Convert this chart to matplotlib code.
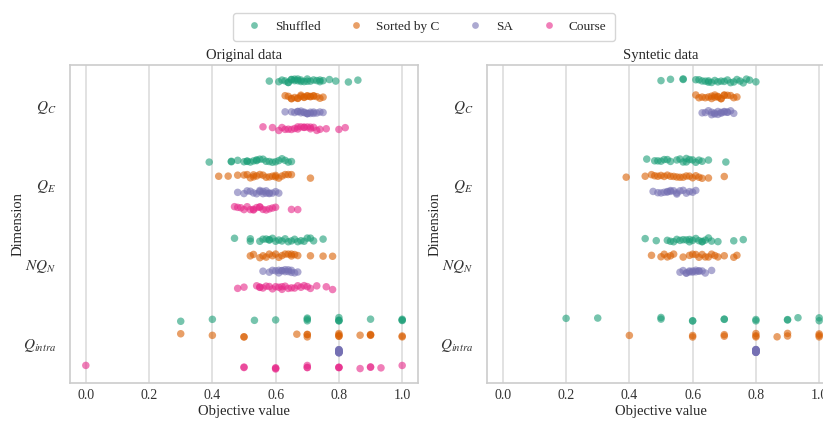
import numpy as np
import pandas as pd
import matplotlib
matplotlib.use("Agg")
import matplotlib.pyplot as plt
import seaborn as sns

methods = ["Shuffled", "Sorted by C", "SA", "Course"]
dimensions = ["QC", "QE", "NQN", "Qintra"]
dim_labels = [r"$Q_C$", r"$Q_E$", r"$NQ_N$", r"$Q_{intra}$"]
xticks = [0.0, 0.2, 0.4, 0.6, 0.8, 1.0]

# ---------------- Original data ----------------
orig_QC_shuffled = [0.58, 0.61, 0.62, 0.63, 0.64, 0.64, 0.65, 0.65, 0.66, 0.66, 0.67, 0.67, 0.68, 0.68,
                    0.69, 0.70, 0.70, 0.71, 0.72, 0.73, 0.74, 0.74, 0.75, 0.77, 0.79, 0.83, 0.86]
orig_QC_sorted = [0.63, 0.64, 0.65, 0.65, 0.66, 0.67, 0.67, 0.68, 0.68, 0.69, 0.69, 0.70, 0.70, 0.71,
                  0.71, 0.72, 0.72, 0.73, 0.74, 0.75]
orig_QC_sa = [0.63, 0.65, 0.66, 0.67, 0.67, 0.68, 0.68, 0.69, 0.69, 0.70, 0.70, 0.70, 0.71, 0.71,
              0.72, 0.72, 0.73, 0.74, 0.75]
orig_QC_course = [0.56, 0.59, 0.61, 0.62, 0.63, 0.64, 0.65, 0.66, 0.67, 0.67, 0.68, 0.69, 0.69, 0.70,
                  0.71, 0.71, 0.72, 0.73, 0.74, 0.76, 0.80, 0.82]

orig_QE_shuffled = [0.39, 0.46, 0.46, 0.48, 0.50, 0.51, 0.51, 0.52, 0.53, 0.54, 0.54, 0.55, 0.56, 0.57,
                    0.58, 0.59, 0.60, 0.61, 0.62, 0.63, 0.64, 0.65]
orig_QE_sorted = [0.42, 0.45, 0.48, 0.50, 0.51, 0.52, 0.53, 0.53, 0.54, 0.55, 0.56, 0.57, 0.58, 0.59,
                  0.60, 0.60, 0.61, 0.62, 0.63, 0.64, 0.65, 0.71]
orig_QE_sa = [0.48, 0.50, 0.51, 0.52, 0.53, 0.54, 0.55, 0.55, 0.56, 0.56, 0.57, 0.57, 0.58, 0.58,
              0.59, 0.60, 0.61]
orig_QE_course = [0.47, 0.48, 0.49, 0.50, 0.51, 0.52, 0.53, 0.53, 0.54, 0.55, 0.55, 0.56, 0.57, 0.58,
                  0.59, 0.60, 0.65, 0.67]

orig_NQN_shuffled = [0.47, 0.52, 0.52, 0.55, 0.56, 0.57, 0.58, 0.58, 0.59, 0.60, 0.61, 0.62, 0.63, 0.64,
                     0.65, 0.66, 0.67, 0.68, 0.69, 0.70, 0.71, 0.72, 0.75]
orig_NQN_sorted = [0.52, 0.53, 0.55, 0.56, 0.57, 0.58, 0.59, 0.60, 0.61, 0.62, 0.63, 0.64, 0.65, 0.65,
                   0.66, 0.67, 0.71, 0.75, 0.78]
orig_NQN_sa = [0.56, 0.58, 0.59, 0.60, 0.61, 0.61, 0.62, 0.62, 0.63, 0.63, 0.64, 0.64, 0.65, 0.65,
               0.66, 0.67]
orig_NQN_course = [0.48, 0.50, 0.54, 0.55, 0.55, 0.56, 0.57, 0.58, 0.59, 0.60, 0.61, 0.62, 0.62, 0.63,
                   0.64, 0.65, 0.66, 0.67, 0.68, 0.69, 0.70, 0.71, 0.73, 0.76, 0.78]

orig_Qintra_shuffled = [0.3, 0.4, 0.533, 0.6, 0.7, 0.7, 0.7, 0.8, 0.8, 0.8, 0.8, 0.9, 1.0, 1.0, 1.0]
orig_Qintra_sorted = [0.3, 0.4, 0.5, 0.5, 0.667, 0.7, 0.7, 0.7, 0.8, 0.8, 0.8, 0.8, 0.867, 0.9, 0.9,
                      0.9, 1.0, 1.0]
orig_Qintra_sa = [0.8, 0.8, 0.8, 0.8, 0.8, 0.8, 0.8, 0.8, 0.8, 0.8, 0.8, 0.8]
orig_Qintra_course = [0.0, 0.5, 0.5, 0.6, 0.6, 0.6, 0.7, 0.7, 0.7, 0.8, 0.8, 0.8, 0.867, 0.9, 0.9,
                      0.933, 1.0]

# ---------------- Synthetic data ----------------
syn_QC_shuffled = [0.50, 0.53, 0.57, 0.57, 0.61, 0.62, 0.63, 0.64, 0.65, 0.65, 0.66, 0.67, 0.68, 0.69,
                   0.70, 0.71, 0.72, 0.73, 0.74, 0.75, 0.76, 0.77, 0.78, 0.80]
syn_QC_sorted = [0.61, 0.62, 0.63, 0.64, 0.65, 0.66, 0.66, 0.67, 0.67, 0.68, 0.68, 0.69, 0.69, 0.70,
                 0.70, 0.71, 0.72, 0.73, 0.74]
syn_QC_sa = [0.63, 0.64, 0.65, 0.66, 0.66, 0.67, 0.67, 0.68, 0.68, 0.69, 0.69, 0.70, 0.70, 0.71,
             0.71, 0.72, 0.73]

syn_QE_shuffled = [0.455, 0.48, 0.49, 0.50, 0.51, 0.52, 0.53, 0.55, 0.56, 0.57, 0.58, 0.58, 0.59, 0.60,
                   0.61, 0.62, 0.63, 0.65, 0.705]
syn_QE_sorted = [0.39, 0.45, 0.47, 0.48, 0.49, 0.50, 0.51, 0.52, 0.53, 0.54, 0.55, 0.56, 0.57, 0.58,
                 0.59, 0.60, 0.61, 0.62, 0.63, 0.65, 0.70]
syn_QE_sa = [0.475, 0.49, 0.50, 0.51, 0.52, 0.52, 0.53, 0.53, 0.54, 0.55, 0.55, 0.56, 0.57, 0.58,
             0.59, 0.60, 0.61]

syn_NQN_shuffled = [0.45, 0.485, 0.52, 0.53, 0.54, 0.55, 0.56, 0.57, 0.58, 0.59, 0.59, 0.60, 0.61, 0.62,
                    0.63, 0.63, 0.64, 0.65, 0.66, 0.68, 0.73, 0.76]
syn_NQN_sorted = [0.47, 0.50, 0.51, 0.52, 0.53, 0.54, 0.57, 0.59, 0.60, 0.61, 0.62, 0.63, 0.64, 0.65,
                  0.66, 0.67, 0.68, 0.70, 0.73, 0.74]
syn_NQN_sa = [0.56, 0.57, 0.58, 0.58, 0.59, 0.59, 0.60, 0.60, 0.61, 0.61, 0.62, 0.62, 0.63, 0.64, 0.66]

syn_Qintra_shuffled = [0.2, 0.3, 0.5, 0.5, 0.6, 0.6, 0.7, 0.7, 0.8, 0.8, 0.9, 0.9, 0.933, 1.0, 1.0]
syn_Qintra_sorted = [0.4, 0.6, 0.6, 0.7, 0.7, 0.8, 0.8, 0.8, 0.867, 0.9, 0.9, 1.0, 1.0, 1.0]
syn_Qintra_sa = [0.8, 0.8, 0.8, 0.8, 0.8, 0.8, 0.8, 0.8, 0.8, 0.8, 0.8, 0.8]

orig_groups = {
    ("QC", "Shuffled"): orig_QC_shuffled, ("QC", "Sorted by C"): orig_QC_sorted,
    ("QC", "SA"): orig_QC_sa, ("QC", "Course"): orig_QC_course,
    ("QE", "Shuffled"): orig_QE_shuffled, ("QE", "Sorted by C"): orig_QE_sorted,
    ("QE", "SA"): orig_QE_sa, ("QE", "Course"): orig_QE_course,
    ("NQN", "Shuffled"): orig_NQN_shuffled, ("NQN", "Sorted by C"): orig_NQN_sorted,
    ("NQN", "SA"): orig_NQN_sa, ("NQN", "Course"): orig_NQN_course,
    ("Qintra", "Shuffled"): orig_Qintra_shuffled, ("Qintra", "Sorted by C"): orig_Qintra_sorted,
    ("Qintra", "SA"): orig_Qintra_sa, ("Qintra", "Course"): orig_Qintra_course,
}
syn_groups = {
    ("QC", "Shuffled"): syn_QC_shuffled, ("QC", "Sorted by C"): syn_QC_sorted, ("QC", "SA"): syn_QC_sa,
    ("QE", "Shuffled"): syn_QE_shuffled, ("QE", "Sorted by C"): syn_QE_sorted, ("QE", "SA"): syn_QE_sa,
    ("NQN", "Shuffled"): syn_NQN_shuffled, ("NQN", "Sorted by C"): syn_NQN_sorted, ("NQN", "SA"): syn_NQN_sa,
    ("Qintra", "Shuffled"): syn_Qintra_shuffled, ("Qintra", "Sorted by C"): syn_Qintra_sorted,
    ("Qintra", "SA"): syn_Qintra_sa,
}


def to_frame(groups):
    rows = []
    for (dim, meth), vals in groups.items():
        for v in vals:
            rows.append({"Dimension": dim, "Method": meth, "Objective value": v})
    return pd.DataFrame(rows)


df_orig = to_frame(orig_groups)
df_syn = to_frame(syn_groups)

sns.set_theme(style="whitegrid")
plt.rcParams["font.family"] = ["Liberation Serif", "DejaVu Serif"]
plt.rcParams["mathtext.fontset"] = "stix"

np.random.seed(3)
fig = plt.figure(figsize=(8.23, 4.24), dpi=100)
ax1 = fig.add_axes([70 / 823, 41 / 424, 348 / 823, 318 / 424])
ax2 = fig.add_axes([487 / 823, 41 / 424, 348 / 823, 318 / 424])

palette = sns.color_palette("Dark2", 4)
for ax, df, title in [(ax1, df_orig, "Original data"), (ax2, df_syn, "Syntetic data")]:
    sns.stripplot(data=df, x="Objective value", y="Dimension", hue="Method",
                  order=dimensions, hue_order=methods, palette=palette,
                  dodge=True, jitter=True, alpha=0.6, size=5.4, linewidth=0,
                  orient="h", ax=ax, legend=(ax is ax1))
    ax.set_xlim(-0.05, 1.05)
    ax.set_ylim(3.5, -0.5)
    ax.set_xticks(xticks)
    ax.set_xticklabels([f"{t:.1f}" for t in xticks], fontsize=10)
    ax.set_yticks(range(len(dimensions)))
    ax.set_yticklabels(dim_labels, fontsize=11)
    ax.grid(axis="y", visible=False)
    ax.grid(axis="x", color="#dddddd", linewidth=1.2)
    ax.set_title(title, fontsize=10.5, pad=4)
    ax.set_xlabel("Objective value", fontsize=10.5)
    ax.set_ylabel("Dimension", fontsize=10.5)
    ax.xaxis.set_label_coords(0.5, -0.07)
    ax.yaxis.set_label_coords(-0.13, 0.5)
    for sp in ax.spines.values():
        sp.set_color("#cccccc")
        sp.set_linewidth(1.2)
    ax.tick_params(axis="x", colors="#333333", pad=4, length=0)
    ax.tick_params(axis="y", colors="#333333", pad=10, length=0)

handles, labels = ax1.get_legend_handles_labels()
ax1.get_legend().remove()
leg = fig.legend(handles, labels, loc="upper center", bbox_to_anchor=(0.515, 0.985), ncol=4,
                 frameon=True, fontsize=9.5, columnspacing=1.7, handletextpad=0.55,
                 borderpad=0.6, markerscale=0.9)
leg.get_frame().set_edgecolor("#cccccc")
for h in leg.legend_handles:
    h.set_alpha(0.6)

fig.savefig("out.png", dpi=100)
